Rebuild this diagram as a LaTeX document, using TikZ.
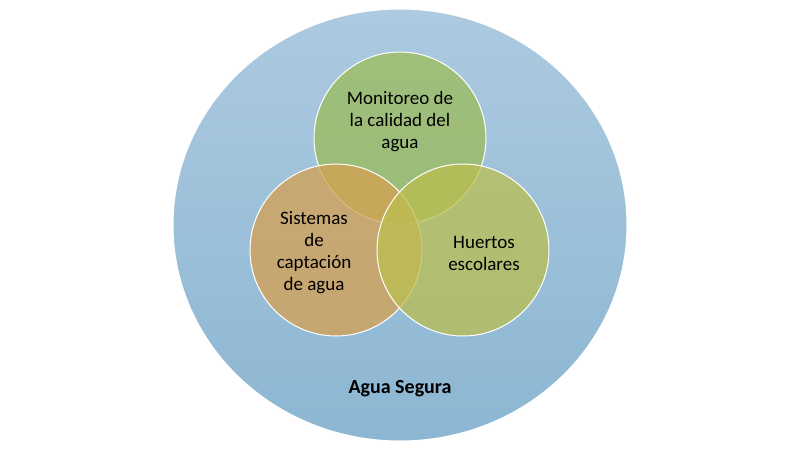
\documentclass[tikz,border=0pt]{standalone}
\usepackage{fontspec}
\setmainfont{Carlito}
\begin{document}
\begin{tikzpicture}[x=1pt,y=-1pt,
  venn/.style={circle,minimum size=172pt,draw=white,line width=1pt,fill opacity=0.75,text opacity=1,align=center,font=\fontsize{19}{22}\selectfont}]
\useasboundingbox (0,0) rectangle (800,450);
\shade[top color={rgb,255:red,172;green,202;blue,224},bottom color={rgb,255:red,140;green,182;blue,210},draw=white,line width=1pt] (400,225) ellipse [x radius=227, y radius=216];
\node[venn,fill={rgb,255:red,155;green,187;blue,89}] (top) at (400,138) {};
\node[venn,fill={rgb,255:red,214;green,160;blue,80}] (left) at (336,250) {};
\node[venn,fill={rgb,255:red,186;green,190;blue,80}] (right) at (463,250) {};
\node[align=center,font=\fontsize{19}{22}\selectfont] (tt) at (400,122) {Monitoreo de\\la calidad del\\agua};
\node[align=center,font=\fontsize{19}{22}\selectfont] (lt) at (314,253) {Sistemas\\de\\captación\\de agua};
\node[align=center,font=\fontsize{19}{22}\selectfont] (rt) at (484,253) {Huertos\\escolares};
\node[font=\bfseries\fontsize{20}{24}\selectfont] (lab) at (400,389) {Agua Segura};
\end{tikzpicture}
\end{document}
